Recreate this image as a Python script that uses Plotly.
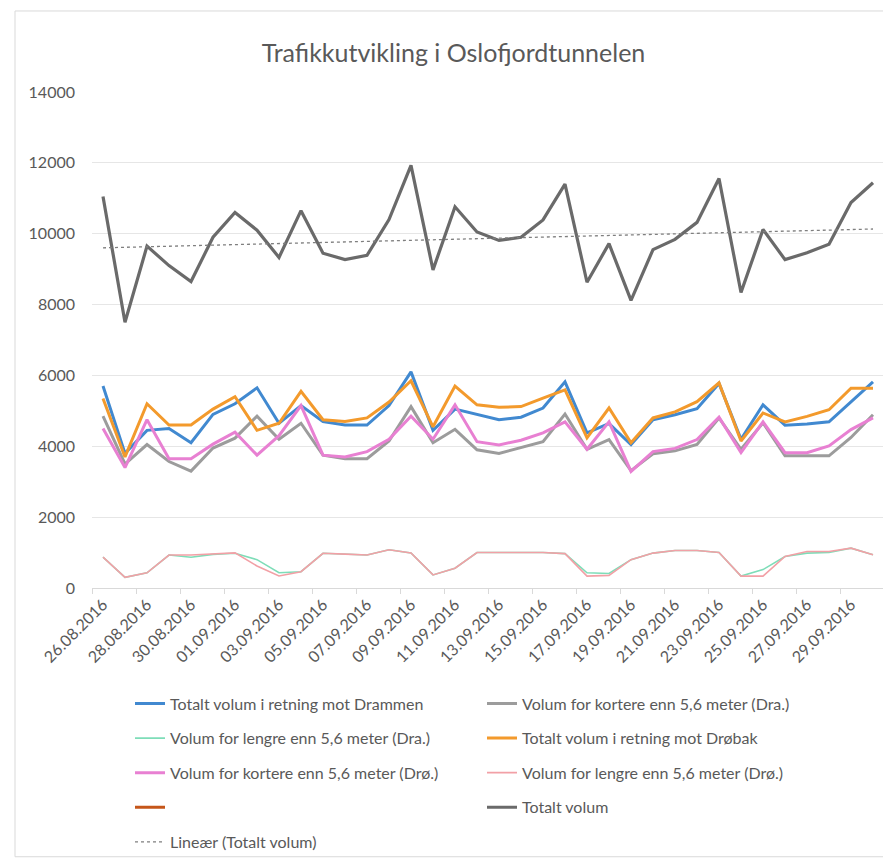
import numpy as np
import plotly.graph_objects as go

dates = ["26.08.2016", "27.08.2016", "28.08.2016", "29.08.2016", "30.08.2016", "31.08.2016",
         "01.09.2016", "02.09.2016", "03.09.2016", "04.09.2016", "05.09.2016", "06.09.2016",
         "07.09.2016", "08.09.2016", "09.09.2016", "10.09.2016", "11.09.2016", "12.09.2016",
         "13.09.2016", "14.09.2016", "15.09.2016", "16.09.2016", "17.09.2016", "18.09.2016",
         "19.09.2016", "20.09.2016", "21.09.2016", "22.09.2016", "23.09.2016", "24.09.2016",
         "25.09.2016", "26.09.2016", "27.09.2016", "28.09.2016", "29.09.2016", "30.09.2016"]

tot_dra = [5700, 3800, 4450, 4500, 4100, 4900, 5200, 5650, 4650, 5150, 4700, 4600,
           4600, 5150, 6100, 4450, 5050, 4890, 4750, 4820, 5080, 5820, 4380, 4640,
           4050, 4750, 4890, 5060, 5775, 4200, 5170, 4595, 4630, 4690, 5250, 5820]
kort_dra = [4850, 3500, 4050, 3570, 3300, 3950, 4230, 4850, 4200, 4650, 3750, 3650,
            3650, 4150, 5120, 4100, 4480, 3900, 3800, 3960, 4130, 4910, 3915, 4190,
            3310, 3790, 3870, 4055, 4800, 3915, 4660, 3730, 3730, 3730, 4250, 4890]
leng_dra = [870, 300, 430, 930, 870, 950, 980, 800, 430, 460, 980, 955,
            930, 1080, 990, 370, 560, 1000, 1000, 985, 1000, 970, 430, 410,
            800, 985, 1060, 1060, 1000, 335, 520, 890, 985, 1000, 1125, 940]
tot_dro = [5350, 3700, 5200, 4600, 4600, 5050, 5400, 4450, 4650, 5550, 4750, 4700,
           4800, 5250, 5850, 4550, 5700, 5170, 5100, 5120, 5360, 5590, 4240, 5080,
           4100, 4800, 4970, 5260, 5790, 4150, 4940, 4690, 4845, 5030, 5640, 5640]
kort_dro = [4500, 3400, 4750, 3650, 3650, 4060, 4400, 3750, 4300, 5150, 3750, 3700,
            3850, 4200, 4850, 4200, 5170, 4130, 4040, 4170, 4380, 4690, 3915, 4690,
            3290, 3850, 3940, 4190, 4820, 3820, 4690, 3820, 3820, 4010, 4470, 4800]
leng_dro = [870, 300, 430, 930, 930, 960, 990, 620, 340, 460, 980, 955,
            930, 1080, 990, 370, 560, 1000, 1000, 985, 1000, 970, 335, 355,
            800, 985, 1060, 1060, 1000, 335, 335, 890, 1030, 1030, 1125, 940]
empty_series = [None] * 36
total = [11050, 7500, 9650, 9100, 8650, 9900, 10600, 10100, 9330, 10650, 9450, 9270,
         9390, 10400, 11930, 8980, 10760, 10050, 9810, 9900, 10390, 11400, 8630, 9720,
         8120, 9550, 9840, 10320, 11560, 8340, 10120, 9270, 9460, 9700, 10880, 11440]

# linear trendline (least squares, as Excel's "Lineær")
idx = np.arange(len(total))
slope, icpt = np.polyfit(idx, total, 1)
trend = list(slope * idx + icpt)

W, H = 891, 863
L, R, T, B = 84, 15, 84, 277
pw, ph = W - L - R, H - T - B

def px(x):
    return (x - L) / pw

def py(y):
    return (H - B - y) / ph

FONT = "Lato, 'Open Sans', sans-serif"
TXT = "#595959"

series = [
    ("Totalt volum i retning mot Drammen", tot_dra, "#4189D0", 3, "solid", "legend"),
    ("Volum for kortere enn 5,6 meter (Dra.)", kort_dra, "#9C9C9C", 3, "solid", "legend"),
    ("Volum for lengre enn 5,6 meter (Dra.)", leng_dra, "#7EDDB8", 1.6, "solid", "legend2"),
    ("Totalt volum i retning mot Drøbak", tot_dro, "#F39A2C", 3, "solid", "legend2"),
    ("Volum for kortere enn 5,6 meter (Drø.)", kort_dro, "#E880D2", 3, "solid", "legend3"),
    ("Volum for lengre enn 5,6 meter (Drø.)", leng_dro, "#F2A0A6", 1.6, "solid", "legend3"),
    (" ", empty_series, "#C5561A", 3, "solid", "legend4"),
    ("Totalt volum", total, "#6A6A6A", 3.2, "solid", "legend4"),
    ("Lineær (Totalt volum)", trend, "#7F7F7F", 1.3, "dot", "legend5"),
]

fig = go.Figure()
for name, vals, col, w, dash, lg in series:
    fig.add_trace(go.Scatter(x=dates, y=vals, name=name, mode="lines",
                             line=dict(color=col, width=w, dash=dash),
                             legend=lg, connectgaps=False))

row_y = [703, 738, 773, 808, 843]
leg_common = dict(orientation="h", xanchor="left", yanchor="middle",
                  font=dict(family=FONT, size=16, color=TXT),
                  entrywidth=307, entrywidthmode="pixels",
                  bgcolor="rgba(0,0,0,0)", itemclick=False)
layout_legends = {}
for i, ry in enumerate(row_y):
    key = "legend" if i == 0 else f"legend{i+1}"
    layout_legends[key] = dict(x=px(122), y=py(ry), **leg_common)

fig.update_layout(
    width=W, height=H,
    margin=dict(l=L, r=R, t=T, b=B),
    paper_bgcolor="white", plot_bgcolor="white",
    title=dict(text="Trafikkutvikling i Oslofjordtunnelen", x=0.5, xanchor="center",
               y=1 - 45 / H, yanchor="middle",
               font=dict(family=FONT, size=25, color=TXT)),
    showlegend=True,
    **layout_legends,
    xaxis=dict(type="category", tickmode="linear", tick0=0, dtick=2,
               tickangle=-45, tickson="boundaries", ticks="outside", ticklen=5,
               tickcolor="#D9D9D9", showline=True, linecolor="#D9D9D9", linewidth=1,
               showgrid=False, range=[-0.5, 35.5],
               tickfont=dict(family=FONT, size=16, color=TXT)),
    yaxis=dict(range=[0, 14000], dtick=2000, tickformat="d", showgrid=True,
               gridcolor="#E6E6E6", gridwidth=1, zeroline=False, showline=False,
               ticks="", ticklabelstandoff=16,
               tickfont=dict(family=FONT, size=16, color=TXT)),
    shapes=[dict(type="rect", xref="paper", yref="paper",
                 x0=px(7), x1=px(887), y0=py(858), y1=py(2),
                 line=dict(color="#D9D9D9", width=1), fillcolor="rgba(0,0,0,0)",
                 layer="below")],
)

fig.write_html("out.html")
